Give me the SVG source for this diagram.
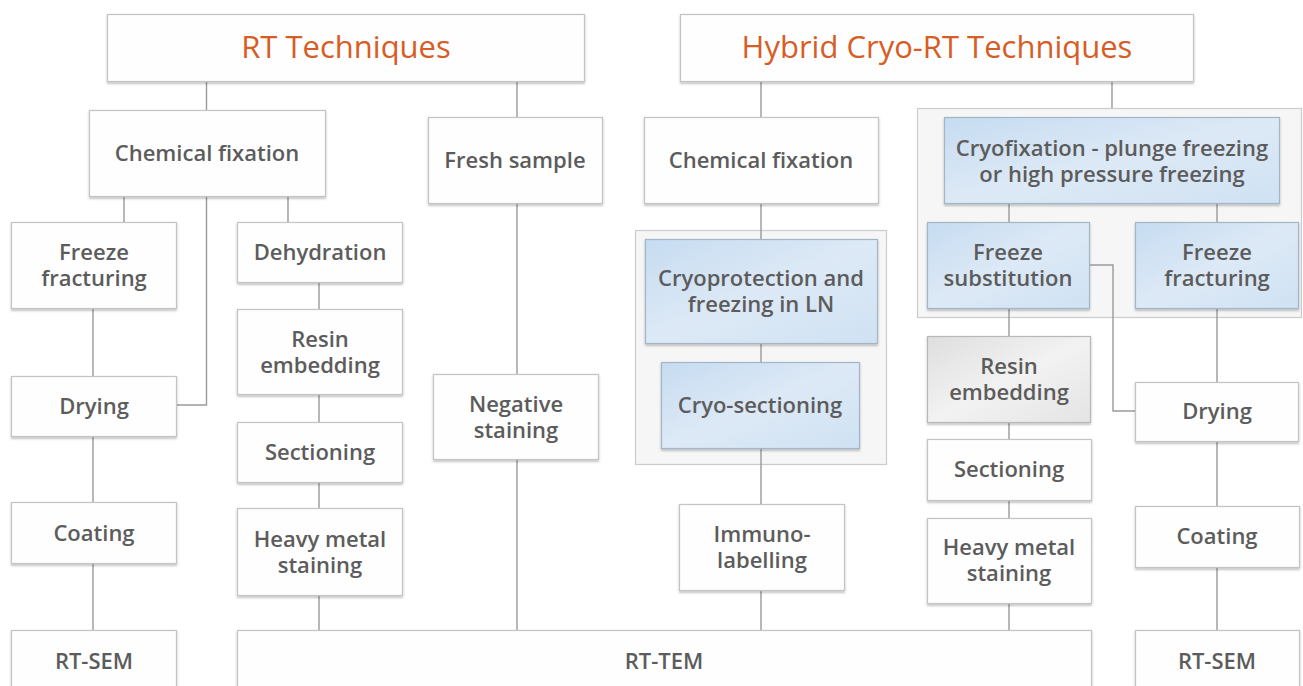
<svg xmlns="http://www.w3.org/2000/svg" width="1303" height="686" viewBox="0 0 1303 686">
<defs>
<filter id="sh" x="-10%" y="-10%" width="120%" height="130%">
<feDropShadow dx="0" dy="1.5" stdDeviation="1" flood-color="#000" flood-opacity="0.3"/>
</filter>
<linearGradient id="blue" x1="0" y1="0" x2="1" y2="1">
<stop offset="0" stop-color="#c6dcf1"/>
<stop offset="0.5" stop-color="#dde9f6"/>
<stop offset="1" stop-color="#cfe2f3"/>
</linearGradient>
<linearGradient id="grey" x1="0" y1="0" x2="1" y2="1">
<stop offset="0" stop-color="#dedede"/>
<stop offset="0.5" stop-color="#f2f2f2"/>
<stop offset="1" stop-color="#e4e4e4"/>
</linearGradient>
</defs>
<style>
.box{fill:#fefefe;stroke:#c4c4c4;stroke-width:1.2;filter:url(#sh)}
.bbox{fill:url(#blue);stroke:#a3b6c8;stroke-width:1.2;filter:url(#sh)}
.gbox{fill:url(#grey);stroke:#b8b8b8;stroke-width:1.2;filter:url(#sh)}
.grp{fill:#f6f6f6;stroke:#cccccc;stroke-width:1.2}
.t{font-family:"Open Sans","Liberation Sans",sans-serif;font-weight:600;font-size:22px;fill:#5c5c5c;text-anchor:middle}
.h{font-family:"Open Sans","Liberation Sans",sans-serif;font-weight:500;font-size:31px;fill:#d65d25;text-anchor:middle}
.c{fill:none;stroke:#9a9a9a;stroke-width:1.4}
</style>
<rect width="1303" height="686" fill="#ffffff"/>

<g id="group-cryo-left"><rect class="grp" x="635.5" y="230.5" width="251" height="234"/></g>
<g id="group-cryo-right"><rect class="grp" x="917.5" y="108.5" width="384" height="209"/></g>

<g id="connectors">
<path class="c" d="M206.5 81V110M517 81V117M761 82V117M1112 82V108"/>
<path class="c" d="M124 196V222M206.5 196V405H176.6M288 196V222"/>
<path class="c" d="M93 308V376M93 436V502M93 563V630"/>
<path class="c" d="M319 282V309M319 394V422M319 482V508M319 595V630"/>
<path class="c" d="M517 203V374M517 459V630"/>
<path class="c" d="M761 203V239M761 343V362M761 448V504M761 590V630"/>
<path class="c" d="M1009 203V222M1009 308V336M1009 422V439M1009 500V518M1009 603V630"/>
<path class="c" d="M1217 203V222M1217 308V382M1217 441V506M1217 567V630"/>
<path class="c" d="M1089 265H1113V411H1135"/>
</g>

<g id="rt-techniques"><rect class="box" x="107.5" y="14.5" width="477" height="67"/><text class="h" x="346" y="58">RT Techniques</text></g>
<g id="hybrid"><rect class="box" x="680.5" y="14.5" width="513" height="67"/><text class="h" x="937" y="58">Hybrid Cryo-RT Techniques</text></g>

<g id="chem-fix-left"><rect class="box" x="89.5" y="110.5" width="236" height="86"/><text class="t" x="207" y="161">Chemical fixation</text></g>
<g id="fresh-sample"><rect class="box" x="428.5" y="117.5" width="174" height="86"/><text class="t" x="515" y="168">Fresh sample</text></g>
<g id="freeze-fracturing-left"><rect class="box" x="11.5" y="222.5" width="165" height="86"/><text class="t" x="94" y="260">Freeze<tspan x="94" dy="26">fracturing</tspan></text></g>
<g id="dehydration"><rect class="box" x="237.5" y="222.5" width="165" height="60"/><text class="t" x="320" y="260">Dehydration</text></g>
<g id="resin-left"><rect class="box" x="237.5" y="309.5" width="165" height="85"/><text class="t" x="320" y="347">Resin<tspan x="320" dy="26">embedding</tspan></text></g>
<g id="sectioning-left"><rect class="box" x="237.5" y="422.5" width="165" height="60"/><text class="t" x="320" y="460">Sectioning</text></g>
<g id="heavy-left"><rect class="box" x="237.5" y="508.5" width="165" height="87"/><text class="t" x="320" y="547">Heavy metal<tspan x="320" dy="26">staining</tspan></text></g>
<g id="drying-left"><rect class="box" x="11.5" y="376.5" width="165" height="60"/><text class="t" x="94" y="414">Drying</text></g>
<g id="coating-left"><rect class="box" x="11.5" y="502.5" width="165" height="61"/><text class="t" x="94" y="541">Coating</text></g>
<g id="rt-sem-left"><rect class="box" x="11.5" y="630.5" width="165" height="70"/><text class="t" x="94" y="669">RT-SEM</text></g>
<g id="negative-staining"><rect class="box" x="433.5" y="374.5" width="165" height="85"/><text class="t" x="516" y="412">Negative<tspan x="516" dy="26">staining</tspan></text></g>
<g id="rt-tem"><rect class="box" x="237.5" y="630.5" width="854" height="70"/><text class="t" x="664" y="669">RT-TEM</text></g>

<g id="chem-fix-right"><rect class="box" x="644.5" y="117.5" width="234" height="86"/><text class="t" x="761" y="168">Chemical fixation</text></g>
<g id="cryofixation"><rect class="bbox" x="944.5" y="117.5" width="335" height="86"/><text class="t" x="1112" y="156">Cryofixation - plunge freezing<tspan x="1112" dy="26">or high pressure freezing</tspan></text></g>
<g id="cryoprotection"><rect class="bbox" x="645.5" y="239.5" width="232" height="104"/><text class="t" x="761" y="286">Cryoprotection and<tspan x="761" dy="26">freezing in LN</tspan></text></g>
<g id="cryo-sectioning"><rect class="bbox" x="661.5" y="362.5" width="198" height="86"/><text class="t" x="760" y="413">Cryo-sectioning</text></g>
<g id="immuno"><rect class="box" x="679.5" y="504.5" width="165" height="86"/><text class="t" x="762" y="542">Immuno-<tspan x="762" dy="26">labelling</tspan></text></g>
<g id="freeze-substitution"><rect class="bbox" x="927.5" y="222.5" width="162" height="86"/><text class="t" x="1008" y="260">Freeze<tspan x="1008" dy="26">substitution</tspan></text></g>
<g id="freeze-fracturing-right"><rect class="bbox" x="1135.5" y="222.5" width="163" height="86"/><text class="t" x="1217" y="260">Freeze<tspan x="1217" dy="26">fracturing</tspan></text></g>
<g id="resin-right"><rect class="gbox" x="927.5" y="336.5" width="163" height="86"/><text class="t" x="1009" y="374">Resin<tspan x="1009" dy="26">embedding</tspan></text></g>
<g id="sectioning-right"><rect class="box" x="927.5" y="439.5" width="164" height="61"/><text class="t" x="1009" y="477">Sectioning</text></g>
<g id="heavy-right"><rect class="box" x="927.5" y="518.5" width="164" height="85"/><text class="t" x="1009" y="555">Heavy metal<tspan x="1009" dy="26">staining</tspan></text></g>
<g id="drying-right"><rect class="box" x="1135.5" y="382.5" width="163" height="59"/><text class="t" x="1217" y="419">Drying</text></g>
<g id="coating-right"><rect class="box" x="1135.5" y="506.5" width="164" height="61"/><text class="t" x="1217" y="544">Coating</text></g>
<g id="rt-sem-right"><rect class="box" x="1135.5" y="630.5" width="164" height="70"/><text class="t" x="1217" y="669">RT-SEM</text></g>
</svg>
